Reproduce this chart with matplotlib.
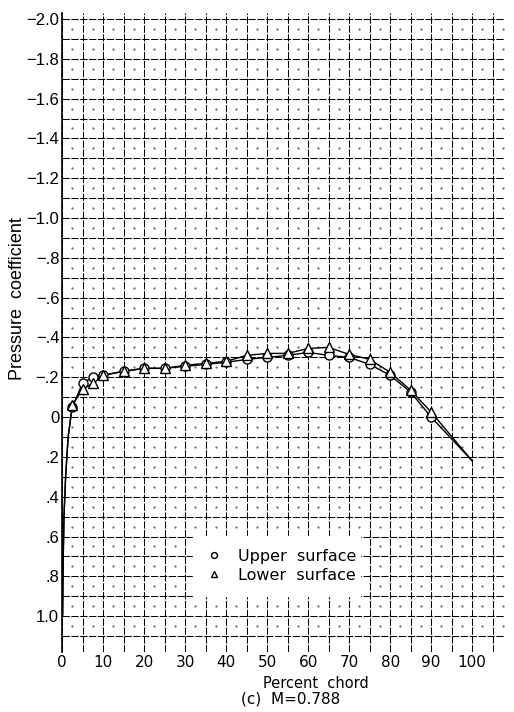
import matplotlib
matplotlib.use("Agg")
import matplotlib.pyplot as plt
import numpy as np

# chordwise stations (percent chord) and pressure coefficients, M = 0.788
x_upper = [2.5, 5, 7.5, 10, 15, 20, 25, 30, 35, 40, 45, 50, 55, 60, 65, 70, 75, 80, 85, 90]
cp_upper = [-0.05, -0.17, -0.20, -0.21, -0.23, -0.245, -0.245, -0.255, -0.265, -0.275,
            -0.29, -0.30, -0.31, -0.325, -0.31, -0.30, -0.265, -0.21, -0.125, 0.0]

x_lower = [2.5, 5, 7.5, 10, 15, 20, 25, 30, 35, 40, 45, 50, 55, 60, 65, 70, 75, 80, 85, 90]
cp_lower = [-0.06, -0.14, -0.17, -0.21, -0.23, -0.245, -0.245, -0.26, -0.27, -0.28,
            -0.31, -0.32, -0.32, -0.345, -0.35, -0.315, -0.29, -0.225, -0.135, -0.025]

# faired curve ends (leading-edge run-in, trailing-edge point)
le_x = [0.15, 0.3, 0.5, 0.9, 1.5]
le_cp = [1.0, 0.7, 0.49, 0.29, 0.10]
te_x = [100]
te_cp = [0.22]

x_ticks = [0, 10, 20, 30, 40, 50, 60, 70, 80, 90, 100]
y_ticks = [-2.0, -1.8, -1.6, -1.4, -1.2, -1.0, -0.8, -0.6, -0.4, -0.2, 0, 0.2, 0.4, 0.6, 0.8, 1.0]
y_labels = ["\u22122.0", "\u22121.8", "\u22121.6", "\u22121.4", "\u22121.2", "\u22121.0",
            "\u2212.8", "\u2212.6", "\u2212.4", "\u2212.2", "0", ".2", ".4", ".6", ".8", "1.0"]

fig = plt.figure(figsize=(5.14, 7.12), dpi=100)
ax = fig.add_axes([62 / 514, 1 - 652 / 712, 443 / 514, 639 / 712])

ax.set_xlim(0, 108)
ax.set_ylim(1.18, -2.03)

# graph-paper grid: heavy lines every 5 % chord / 0.1 Cp, dots in the cell centres
ax.set_xticks(x_ticks)
ax.set_xticks(np.arange(0, 106, 5), minor=True)
ax.set_yticks(y_ticks)
ax.set_yticks(np.arange(-2.0, 1.15, 0.1), minor=True)
ax.grid(True, which="both", color="black", lw=0.75, ls=(0, (7, 1.5)))
gx, gy = np.meshgrid(np.arange(2.5, 108, 5), np.arange(-1.95, 1.15, 0.1))
ax.plot(gx.ravel(), gy.ravel(), ls="none", marker=".", ms=1.2, color="0.4", zorder=1)

ax.set_yticklabels(y_labels, family="Liberation Sans", fontsize=12)
ax.set_xticklabels([str(v) for v in x_ticks], family="DejaVu Sans", fontsize=11)
ax.tick_params(which="both", length=0)
ax.tick_params(axis="y", pad=2)
ax.tick_params(axis="x", pad=2)
for s in ["top", "right", "bottom"]:
    ax.spines[s].set_visible(False)
ax.spines["left"].set_linewidth(1.2)

# faired curves
ax.plot(le_x + x_upper + te_x, le_cp + cp_upper + te_cp, color="black", lw=1.0, zorder=3)
ax.plot(le_x + x_lower + te_x, le_cp + cp_lower + te_cp, color="black", lw=1.0, zorder=3)

up, = ax.plot(x_upper, cp_upper, ls="none", marker="o", ms=6.5, mfc="white",
              mec="black", mew=1.0, zorder=4, label="Upper  surface")
lo, = ax.plot(x_lower, cp_lower, ls="none", marker="^", ms=6.5, mfc="white",
              mec="black", mew=1.0, zorder=4, label="Lower  surface")

leg = ax.legend(handles=[up, lo], loc="center",
                bbox_to_anchor=(0.278, 0.089, 0.413, 0.091), mode="expand",
                markerscale=0.65, fontsize=11.5, frameon=True, fancybox=False,
                handlelength=1.0, handletextpad=1.0, borderpad=0.8,
                labelspacing=0.25)
leg.get_frame().set_facecolor("white")
leg.get_frame().set_edgecolor("white")
leg.get_frame().set_alpha(1)
leg.set_zorder(5)

fig.text(18 / 514, 1 - 299 / 712, "Pressure  coefficient", rotation=90,
         ha="center", va="center", fontsize=13, family="Liberation Sans")
fig.text(316 / 514, 1 - 683 / 712, "Percent  chord", ha="center", va="center", fontsize=10.5)
fig.text(291 / 514, 1 - 699 / 712, "(c)  M=0.788", ha="center", va="center", fontsize=11)

fig.savefig("out.png", dpi=100)
